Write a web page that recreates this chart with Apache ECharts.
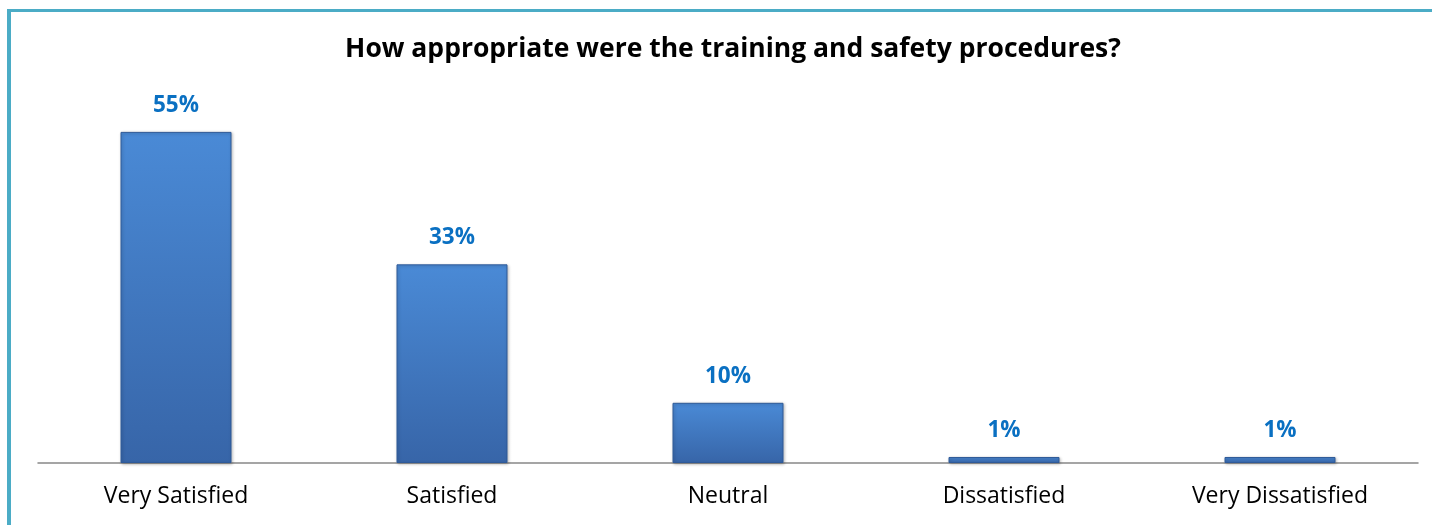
<!DOCTYPE html>
<html>
<head>
<meta charset="utf-8">
<script src="https://cdn.jsdelivr.net/npm/echarts@6/dist/echarts.min.js"></script>
<style>
  html, body {margin: 0; padding: 0; background: #fff;}
  #chart {width: 1432px; height: 525px;}
</style>
</head>
<body>
<div id="chart"></div>
<script>
// answers to the survey question
let categories = ['Very Satisfied', 'Satisfied', 'Neutral', 'Dissatisfied', 'Very Dissatisfied'];
let percents = [55, 33, 10, 1, 1];
let titleText = 'How appropriate were the training and safety procedures?';

let chart = echarts.init(document.getElementById('chart'));

let barColor = new echarts.graphic.LinearGradient(0, 0, 0, 1, [
  {offset: 0, color: '#4a8ad6'},
  {offset: 1, color: '#3765a8'}
]);

chart.setOption({
  backgroundColor: '#fff',
  animation: false,
  title: {
    text: titleText,
    left: 728,
    textAlign: 'center',
    top: 31,
    textStyle: {fontFamily: 'Open Sans', fontWeight: 'bold', fontSize: 26.5, color: '#000'}
  },
  graphic: [
    {type: 'rect', shape: {x: 7, y: 9, width: 1425, height: 3}, style: {fill: '#4bacc6'}},
    {type: 'rect', shape: {x: 7, y: 9, width: 4, height: 516}, style: {fill: '#4bacc6'}}
  ],
  grid: {left: 38, right: 14, top: 103, bottom: 62},
  xAxis: {
    type: 'category',
    data: categories,
    axisLine: {lineStyle: {color: '#888', width: 1.5}},
    axisTick: {show: false},
    axisLabel: {fontFamily: 'Open Sans', fontSize: 23, color: '#000', margin: 22}
  },
  yAxis: {
    type: 'value',
    min: 0,
    max: 59.8,
    show: false,
    splitLine: {show: false}
  },
  series: [{
    type: 'bar',
    data: percents,
    barWidth: 111,
    itemStyle: {
      color: barColor,
      borderColor: '#2f5a98',
      borderWidth: 1,
      shadowColor: 'rgba(0,0,0,0.25)',
      shadowBlur: 3,
      shadowOffsetX: 1,
      shadowOffsetY: 1
    },
    label: {
      show: true,
      position: 'top',
      distance: 15,
      formatter: '{c}%',
      fontFamily: 'Open Sans',
      fontWeight: 'bold',
      fontSize: 22.5,
      color: '#0a70c2'
    }
  }]
});
</script>
</body>
</html>
